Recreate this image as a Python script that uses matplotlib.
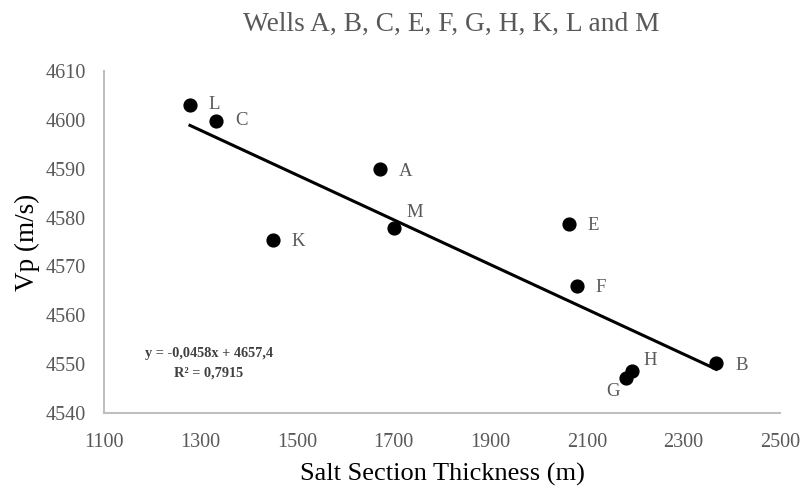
import matplotlib
matplotlib.use("Agg")
import matplotlib.pyplot as plt
import numpy as np

wells = ["L", "C", "A", "M", "K", "E", "F", "H", "G", "B"]
thickness = [1278, 1332, 1672, 1701, 1450, 2064, 2080, 2194, 2180, 2368]
vp = [4603.0, 4599.8, 4589.9, 4577.9, 4575.4, 4578.7, 4566.0, 4548.6, 4547.2, 4550.2]
slope = -0.0458
intercept = 4657.4
r2 = 0.7915
x_ticks = [1100, 1300, 1500, 1700, 1900, 2100, 2300, 2500]
y_ticks = [4540, 4550, 4560, 4570, 4580, 4590, 4600, 4610]

label_offsets = {"L": (18, 1), "C": (19, 0), "A": (19, -2), "M": (12, 15), "K": (18, -1),
                 "E": (18, -2), "F": (18, -2), "H": (11, 10), "G": (-13, -14), "B": (19, -2)}

plt.rcParams['font.family'] = ['Liberation Serif', 'DejaVu Serif']
gray = "#595959"

fig = plt.figure(figsize=(8.02, 4.91), dpi=100)
ax = fig.add_axes([0.1297, 0.1589, 0.8429, 0.6965])

ax.scatter(thickness, vp, s=85, color="black", zorder=3)
xs = np.array([min(thickness), max(thickness)])
ax.plot(xs, slope * xs + intercept, color="black", lw=2.2, zorder=2)

for w, x, y in zip(wells, thickness, vp):
    dx, dy = label_offsets[w]
    ax.annotate(w, (x, y), xytext=(dx, dy), textcoords="offset pixels",
                ha="left" if dx > 0 else "center", va="center", fontsize=13.5, color=gray)

ax.text(0.155, 0.175, f"y = {slope:.4f}x + {intercept:.1f}".replace(".", ","),
        transform=ax.transAxes, ha="center", va="center", fontsize=10.3,
        fontweight="bold", color="#404040")
ax.text(0.155, 0.117, f"R² = {r2:.4f}".replace(".", ","),
        transform=ax.transAxes, ha="center", va="center", fontsize=10.3,
        fontweight="bold", color="#404040")

ax.set_xlim(1100, 2500)
ax.set_ylim(4540, 4610)
ax.set_xticks(x_ticks)
ax.set_yticks(y_ticks)
ax.tick_params(axis="y", length=0, labelsize=14.5, labelcolor=gray, pad=13)
ax.tick_params(axis="x", length=0, labelsize=14.5, labelcolor=gray, pad=14.5)
for s in ["top", "right"]:
    ax.spines[s].set_visible(False)
for s in ["left", "bottom"]:
    ax.spines[s].set_color("#BFBFBF")
    ax.spines[s].set_linewidth(1.5)

ax.set_xlabel("Salt Section Thickness (m)", fontsize=19, color="black", labelpad=8)
ax.set_ylabel("Vp (m/s)", fontsize=19.5, color="black", labelpad=4)
fig.suptitle("Wells A, B, C, E, F, G, H, K, L and M", fontsize=19.7, color=gray,
             x=0.563, y=0.975)

fig.savefig("out.png", dpi=100)
